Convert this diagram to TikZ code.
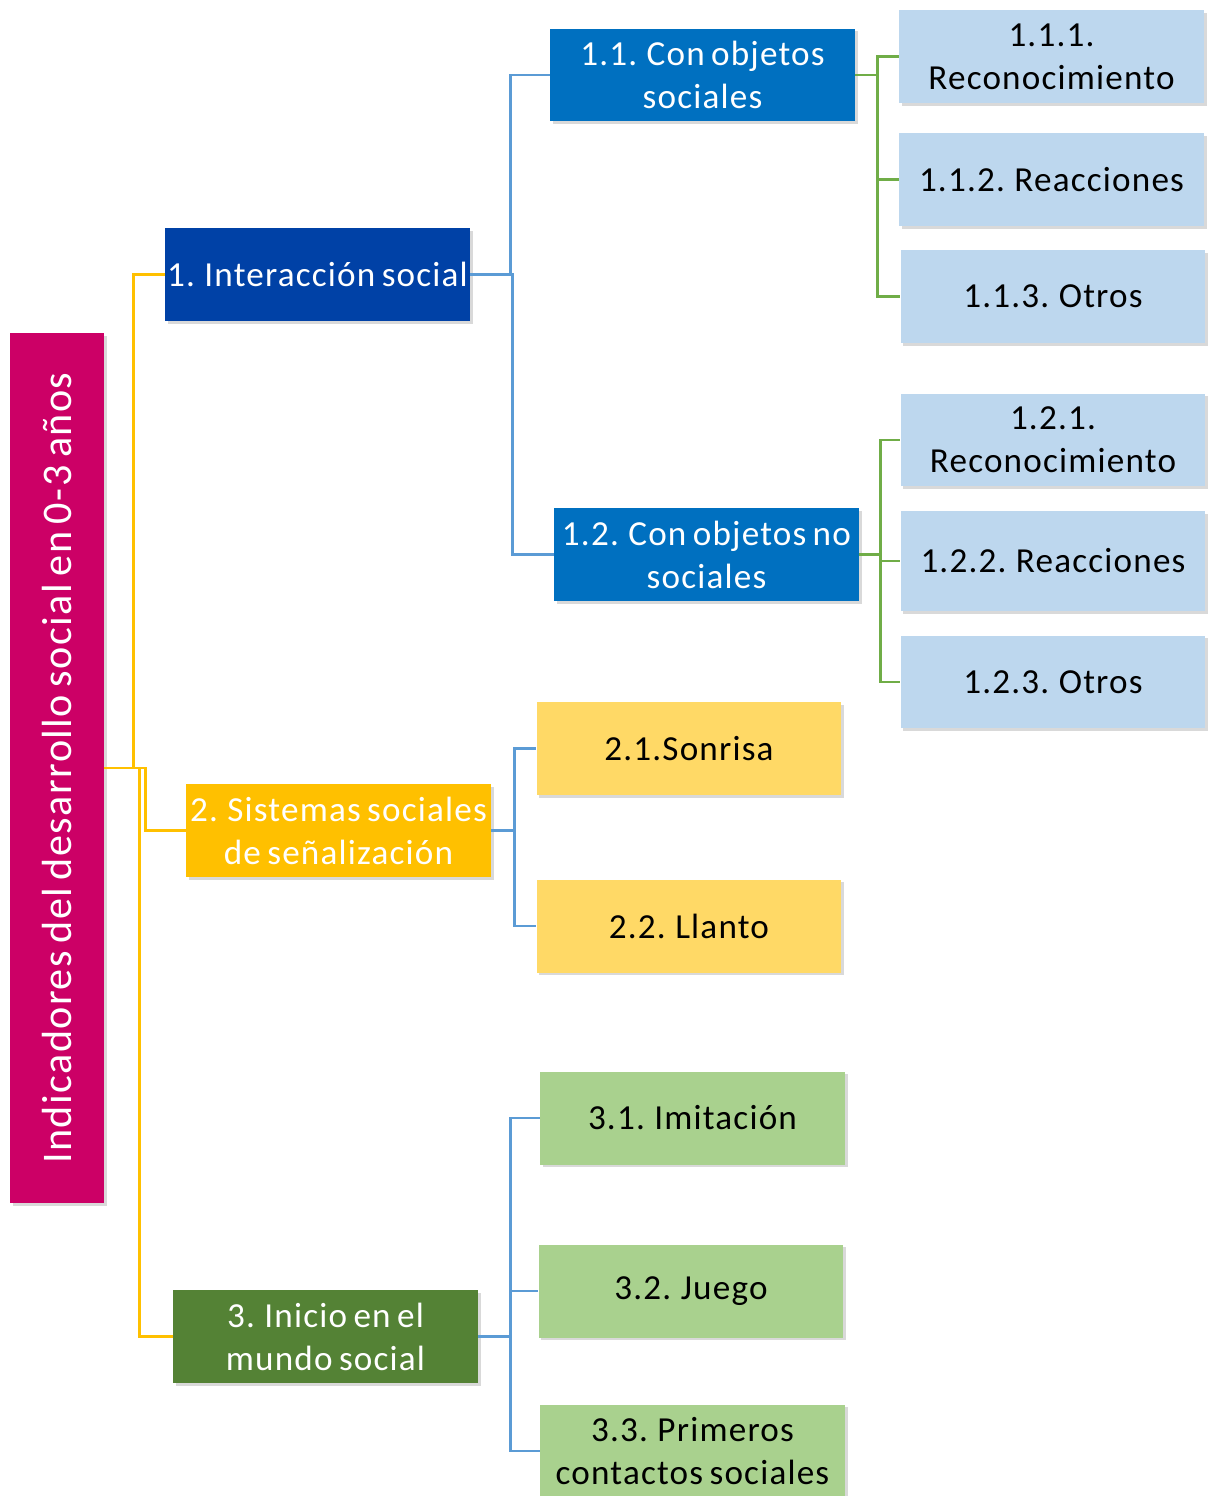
\documentclass[tikz,border=0pt]{standalone}
\usepackage{fontspec}
\setmainfont{Carlito}[LetterSpace=3.4,WordSpace=0.7]
\usetikzlibrary{shadows,calc}
\definecolor{magenta}{HTML}{CC0066}
\definecolor{darkblue}{HTML}{0041A6}
\definecolor{midblue}{HTML}{0070C0}
\definecolor{paleblue}{HTML}{BDD7EE}
\definecolor{gold}{HTML}{FFC000}
\definecolor{palegold}{HTML}{FFD966}
\definecolor{darkgreen}{HTML}{548235}
\definecolor{palegreen}{HTML}{A9D18E}
\definecolor{linkblue}{HTML}{5B9BD5}
\definecolor{linkgreen}{HTML}{70AD47}

\begin{document}
\begin{tikzpicture}[
  x=0.02cm,
  y=-0.02cm,
  box/.style={
    minimum width=6.1cm,
    minimum height=1.86cm,
    align=center,
    inner sep=1pt,
    font=\fontsize{20}{24.4}\selectfont,
    drop shadow={shadow xshift=1.6pt,shadow yshift=-1.6pt,opacity=0.3}
  },
  rootbox/.style={
    box,
    fill=magenta,
    text=white,
    minimum width=1.88cm,
    minimum height=17.4cm
  },
  darkbox/.style={box,text=white},
  palebox/.style={box,text=black},
  yellowlink/.style={draw=gold,line width=1.6pt},
  bluelink/.style={draw=linkblue,line width=1.6pt},
  greenlink/.style={draw=linkgreen,line width=1.6pt}
]
\useasboundingbox (0,0) rectangle (1208,1496);

% root
\node[rootbox] (root) at (57,768) {};
\node[rotate=90,text=white,font=\fontsize{24}{28}\selectfont] (roottext) at (root.center)
  {Indicadores del desarrollo social en 0-3 años};

% first level
\node[darkbox,fill=darkblue] (inter) at (317.5,274.5) {1. Interacción social};
\node[darkbox,fill=gold] (sist) at (338.5,830.5) {2. Sistemas sociales\\de señalización};
\node[darkbox,fill=darkgreen] (inicio) at (325.5,1336.5) {3. Inicio en el\\mundo social};

% second level
\node[darkbox,fill=midblue] (conobj) at (702.5,75) {1.1. Con objetos\\sociales};
\node[darkbox,fill=midblue] (noobj) at (706.5,554.5) {1.2. Con objetos no\\sociales};
\node[palebox,fill=palegold] (sonrisa) at (689,748.5) {2.1.Sonrisa};
\node[palebox,fill=palegold] (llanto) at (689,926) {2.2. Llanto};
\node[palebox,fill=palegreen] (imit) at (692.5,1118) {3.1. Imitación};
\node[palebox,fill=palegreen] (juego) at (691,1291) {3.2. Juego};
\node[palebox,fill=palegreen] (contact) at (692.5,1451) {3.3. Primeros\\contactos sociales};

% third level
\node[palebox,fill=paleblue] (recA) at (1051.5,56.5) {1.1.1.\\Reconocimiento};
\node[palebox,fill=paleblue] (reacA) at (1051.5,179.5) {1.1.2. Reacciones};
\node[palebox,fill=paleblue] (otrA) at (1053,296.5) {1.1.3. Otros};
\node[palebox,fill=paleblue] (recB) at (1053,440) {1.2.1.\\Reconocimiento};
\node[palebox,fill=paleblue,minimum height=2cm] (reacB) at (1053,561) {1.2.2. Reacciones};
\node[palebox,fill=paleblue] (otrB) at (1053,682) {1.2.3. Otros};

% links from the root
\draw[yellowlink] (root.east) -- ++(29,0) |- (inter.west);
\draw[yellowlink] (root.east) -- ++(35,0) |- (inicio.west);
\draw[yellowlink] (root.east) -- ++(41,0) |- (sist.west);

% links to second level
\draw[bluelink] (inter.east) -- ++(40,0) |- (conobj.west);
\draw[bluelink] (inter.east) -- ++(42,0) |- (noobj.west);
\draw[bluelink] (sist.east) -- ++(23,0) |- (sonrisa.west);
\draw[bluelink] (sist.east) -- ++(23,0) |- (llanto.west);
\draw[bluelink] (inicio.east) -- ++(32,0) |- (imit.west);
\draw[bluelink] (inicio.east) -- ++(32,0) |- (juego.west);
\draw[bluelink] (inicio.east) -- ++(32,0) |- (contact.west);

% links to third level
\draw[greenlink] (conobj.east) -- ++(22,0) |- (recA.west);
\draw[greenlink] (conobj.east) -- ++(22,0) |- (reacA.west);
\draw[greenlink] (conobj.east) -- ++(22,0) |- (otrA.west);
\draw[greenlink] (noobj.east) -- ++(21,0) |- (recB.west);
\draw[greenlink] (noobj.east) -- ++(21,0) |- (reacB.west);
\draw[greenlink] (noobj.east) -- ++(21,0) |- (otrB.west);

\end{tikzpicture}
\end{document}
